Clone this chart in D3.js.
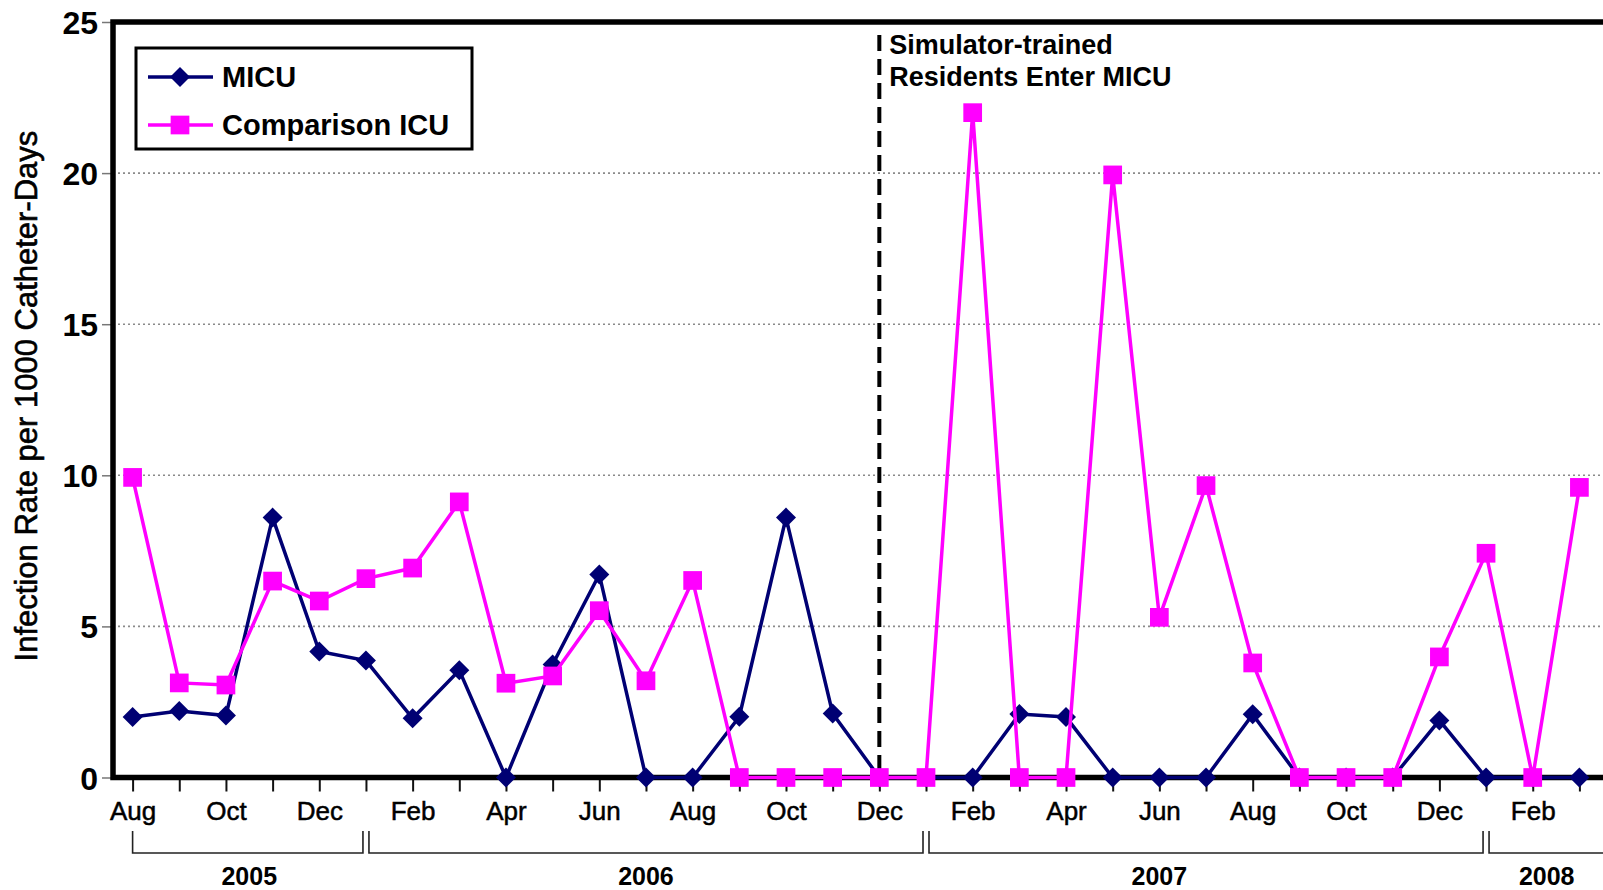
<!DOCTYPE html>
<html>
<head>
<meta charset="utf-8">
<script src="https://cdn.jsdelivr.net/npm/d3@7"></script>
<style>
  html, body { margin: 0; padding: 0; background: #fff; }
  svg { display: block; }
  text { font-family: "Liberation Sans", Arial, sans-serif; fill: #000; }
</style>
</head>
<body>
<svg id="chart" width="1603" height="890"></svg>
<script>
// Monthly central-line infection rates, Aug 2005 – Mar 2008
const months = [
  "Aug","Sep","Oct","Nov","Dec",
  "Jan","Feb","Mar","Apr","May","Jun","Jul","Aug","Sep","Oct","Nov","Dec",
  "Jan","Feb","Mar","Apr","May","Jun","Jul","Aug","Sep","Oct","Nov","Dec",
  "Jan","Feb","Mar"
];
const micu = [
  2.0, 2.2, 2.05, 8.6, 4.17,
  3.87, 1.96, 3.55, 0, 3.74, 6.72, 0, 0, 2.01, 8.6, 2.12, 0,
  0, 0, 2.1, 2.0, 0, 0, 0, 2.09, 0, 0, 0, 1.89,
  0, 0, 0
];
const comparisonICU = [
  9.93, 3.13, 3.06, 6.5, 5.84,
  6.58, 6.93, 9.12, 3.12, 3.36, 5.52, 3.2, 6.52, 0, 0, 0, 0,
  0, 22.0, 0, 0, 19.94, 5.3, 9.66, 3.79, 0, 0, 0, 3.99,
  7.42, 0, 9.6
];
const yTicks = [0, 5, 10, 15, 20, 25];
const gridValues = [5, 10, 15, 20];
const years = ["2005", "2006", "2007", "2008"];
const yearStart = [0, 5, 17, 29];      // month index where each year begins
const yearEnd = [5, 17, 29, 32.2];     // month index where the next year begins
const yearLabelAt = [2.5, 11, 22, 30.3];
const interventionMonth = 16;          // Dec 2006
const annotation = ["Simulator-trained", "Residents Enter MICU"];
const seriesNames = ["MICU", "Comparison ICU"];

const svg = d3.select("#chart");
const plotLeft = 113, plotRight = 1600, plotTop = 22, plotBottom = 777.5;

const x = d3.scaleLinear().domain([0, 31]).range([132.6, 1579.4]);
const y = d3.scaleLinear().domain([0, 25]).range([plotBottom, plotTop]);

const navy = "#000073";
const pink = "#ff00ff";

// dotted gridlines
svg.append("g").selectAll("line").data(gridValues).join("line")
  .attr("x1", plotLeft).attr("x2", plotRight)
  .attr("y1", d => y(d)).attr("y2", d => y(d))
  .attr("stroke", "#8a8a8a").attr("stroke-width", 1.6)
  .attr("stroke-dasharray", "2,3");

// y axis
const yAxis = d3.axisLeft(y).tickValues(yTicks).tickSize(9).tickPadding(4);
const gy = svg.append("g").attr("transform", `translate(${plotLeft - 2},0)`).call(yAxis);
gy.select(".domain").remove();
gy.selectAll(".tick line").attr("stroke", "#777").attr("stroke-width", 1.5);
gy.selectAll(".tick text")
  .style("font-family", "'Liberation Sans', Arial, sans-serif")
  .style("font-size", "32px").style("font-weight", "bold").attr("fill", "#000")
  .attr("dy", "0.36em");

// x axis ticks (every month), labels on every other month
const xAxis = d3.axisBottom(x).tickValues(d3.range(months.length)).tickSize(14).tickPadding(10)
  .tickFormat(i => i % 2 === 0 ? months[i] : "");
const gx = svg.append("g").attr("transform", `translate(0,${plotBottom})`).call(xAxis);
gx.select(".domain").remove();
gx.selectAll(".tick line").attr("stroke", "#111").attr("stroke-width", 2);
gx.selectAll(".tick text")
  .style("font-family", "'Liberation Sans', Arial, sans-serif")
  .style("font-size", "26px").attr("fill", "#000")
  .attr("stroke", "#000").attr("stroke-width", 0.5);

// year brackets
const bracketTop = 831, bracketY = 853;
const gb = svg.append("g").attr("stroke", "#222").attr("stroke-width", 1.6).attr("fill", "none");
years.forEach((yr, k) => {
  const x0 = k === 0 ? x(yearStart[k]) : x(yearStart[k]) + 3;
  const x1 = k === years.length - 1 ? x(yearEnd[k]) : x(yearEnd[k]) - 3;
  gb.append("path").attr("d", `M${x0},${bracketTop}V${bracketY}H${x1}` + (k === years.length - 1 ? "" : `V${bracketTop}`));
});
svg.append("g").selectAll("text").data(years).join("text")
  .attr("x", (d, k) => x(yearLabelAt[k])).attr("y", 885)
  .attr("text-anchor", "middle")
  .style("font-size", "25px").style("font-weight", "bold")
  .text(d => d);

// y axis title
svg.append("text")
  .attr("transform", `translate(37,${(133 + 659) / 2}) rotate(-90)`)
  .attr("text-anchor", "middle")
  .style("font-size", "31px")
  .attr("stroke", "#000").attr("stroke-width", 0.6)
  .text("Infection Rate per 1000 Catheter-Days");

// intervention marker
svg.append("line")
  .attr("x1", x(interventionMonth)).attr("x2", x(interventionMonth))
  .attr("y1", 35).attr("y2", plotBottom)
  .attr("stroke", "#000").attr("stroke-width", 4)
  .attr("stroke-dasharray", "16,8");
svg.append("g").selectAll("text").data(annotation).join("text")
  .attr("x", x(interventionMonth) + 10).attr("y", (d, i) => 54 + i * 32)
  .style("font-size", "27px").style("font-weight", "bold")
  .text(d => d);

// series lines and markers
const line = d3.line().x((d, i) => x(i)).y(d => y(d));
// square rotated 45°, equal width and height
const rhombus = {
  draw(ctx, size) {
    const r = Math.sqrt(size / 2);
    ctx.moveTo(0, -r); ctx.lineTo(r, 0); ctx.lineTo(0, r); ctx.lineTo(-r, 0); ctx.closePath();
  }
};
const diamond = d3.symbol().type(rhombus).size(200);
const square = d3.symbol().type(d3.symbolSquare).size(350);

function drawSeries(values, color, sym, width) {
  const g = svg.append("g");
  g.append("path").datum(values).attr("d", line)
    .attr("fill", "none").attr("stroke", color).attr("stroke-width", width)
    .attr("stroke-linejoin", "miter");
  g.selectAll("path.pt").data(values).join("path").attr("class", "pt")
    .attr("transform", (d, i) => `translate(${x(i)},${y(d)})`)
    .attr("d", sym).attr("fill", color);
}

// plot frame
svg.append("rect")
  .attr("x", plotLeft).attr("y", plotTop).attr("width", plotRight - plotLeft + 6).attr("height", plotBottom - plotTop)
  .attr("fill", "none").attr("stroke", "#000").attr("stroke-width", 5.5);

drawSeries(micu, navy, diamond, 3.5);
drawSeries(comparisonICU, pink, square, 3.5);

// legend
const lg = svg.append("g");
lg.append("rect").attr("x", 136).attr("y", 48).attr("width", 336).attr("height", 101)
  .attr("fill", "#fff").attr("stroke", "#000").attr("stroke-width", 3);
const legendRows = [
  { name: seriesNames[0], color: navy, sym: diamond, cy: 77 },
  { name: seriesNames[1], color: pink, sym: square, cy: 125 }
];
legendRows.forEach(r => {
  lg.append("line").attr("x1", 148).attr("x2", 213).attr("y1", r.cy).attr("y2", r.cy)
    .attr("stroke", r.color).attr("stroke-width", 3.5);
  lg.append("path").attr("transform", `translate(180,${r.cy})`).attr("d", r.sym).attr("fill", r.color);
  lg.append("text").attr("x", 222).attr("y", r.cy + 10)
    .style("font-size", "29px").style("font-weight", "bold").text(r.name);
});
</script>
</body>
</html>
